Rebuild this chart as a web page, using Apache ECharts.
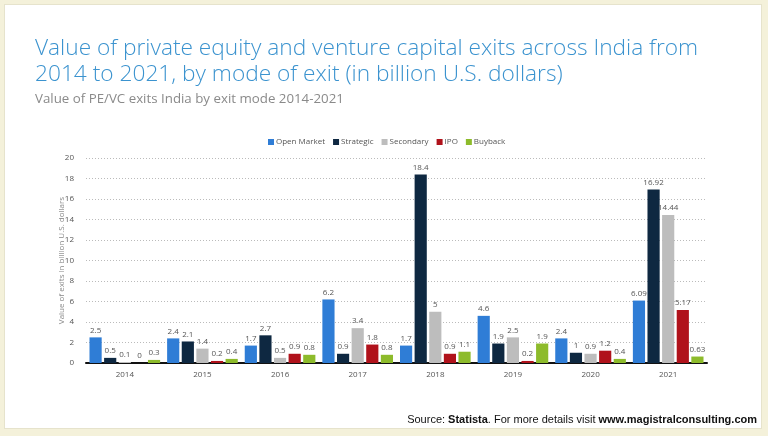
<!DOCTYPE html>
<html><head><meta charset="utf-8">
<script src="https://cdn.jsdelivr.net/npm/echarts@6/dist/echarts.min.js"></script>
<style>
html,body{margin:0;padding:0;background:#f4f1da;}
#frame{position:absolute;left:4px;top:4px;width:758px;height:425px;background:#fff;border:1px solid #e6e3cc;box-sizing:border-box;}
#c{position:absolute;left:0;top:0;width:768px;height:436px;}
</style></head>
<body>
<div id="frame"></div>
<div id="c"></div>
<script>
const years = ['2014','2015','2016','2017','2018','2019','2020','2021'];
const seriesNames = ['Open Market','Strategic','Secondary','IPO','Buyback'];
const openMarket = [2.5, 2.4, 1.7, 6.2, 1.7, 4.6, 2.4, 6.09];
const strategic = [0.5, 2.1, 2.7, 0.9, 18.4, 1.9, 1, 16.92];
const secondary = [0.1, 1.4, 0.5, 3.4, 5, 2.5, 0.9, 14.44];
const ipo = [0, 0.2, 0.9, 1.8, 0.9, 0.2, 1.2, 5.17];
const buyback = [0.3, 0.4, 0.8, 0.8, 1.1, 1.9, 0.4, 0.63];
const colors = ['#2f7dd6','#0e2841','#bdbdbd','#b0121b','#8dbb2b'];
const values = [openMarket, strategic, secondary, ipo, buyback];

const chart = echarts.init(document.getElementById('c'), null, {renderer:'canvas'});
chart.setOption({
  backgroundColor: 'transparent',
  animation: false,
  title: [
    {text: 'Value of private equity and venture capital exits across India from\n2014 to 2021, by mode of exit (in billion U.S. dollars)',
     left: 30, top: 31,
     textStyle: {fontFamily: 'Open Sans', fontWeight: 300, fontSize: 22.7, color: '#3b93cf', lineHeight: 26}},
    {text: 'Value of PE/VC exits India by exit mode 2014-2021',
     left: 30, top: 88,
     textStyle: {fontFamily: 'Open Sans', fontWeight: 'normal', fontSize: 13.3, color: '#8a8a8a'}},
    {text: '{n|Source: }{b|Statista}{n|. For more details visit }{b|www.magistralconsulting.com}',
     right: 6, top: 409,
     textStyle: {fontWeight: 'normal', rich: {
       n: {fontFamily: 'Liberation Sans', fontSize: 11, color: '#111', fontWeight: 'normal'},
       b: {fontFamily: 'Liberation Sans', fontSize: 11, color: '#111', fontWeight: 'bold'}}}}
  ],
  legend: {
    data: seriesNames, left: 263, top: 133, itemWidth: 6, itemHeight: 6, itemGap: 8,
    icon: 'rect',
    textStyle: {fontFamily: 'Open Sans', fontSize: 8, color: '#555', padding: [0,0,0,-3]}
  },
  grid: {left: 86, right: 61, top: 158, bottom: 73, containLabel: false},
  xAxis: {
    type: 'category', data: years,
    axisLine: {lineStyle: {color: '#111', width: 2}},
    axisTick: {show: false},
    axisLabel: {fontFamily: 'Open Sans', fontSize: 8, color: '#555', margin: 8}
  },
  yAxis: {
    type: 'value', min: 0, max: 20, interval: 2,
    name: 'Value of exits in billion U.S. dollars', nameLocation: 'middle', nameGap: 20,
    nameMoveOverlap: false,
    nameTextStyle: {fontFamily: 'Open Sans', fontSize: 8, color: '#888'},
    axisLine: {show: false}, axisTick: {show: false},
    axisLabel: {fontFamily: 'Open Sans', fontSize: 8, color: '#555', margin: 12},
    splitLine: {lineStyle: {color: '#bbb', type: [1,2], width: 1}}
  },
  series: seriesNames.map((n, i) => ({
    name: n, type: 'bar', data: values[i],
    barCategoryGap: '9%', barGap: '20%',
    itemStyle: {color: colors[i]},
    label: {show: true, position: 'top', distance: 3, fontFamily: 'Open Sans', fontSize: 8, color: '#555'}
  }))
});
</script>
</body></html>
